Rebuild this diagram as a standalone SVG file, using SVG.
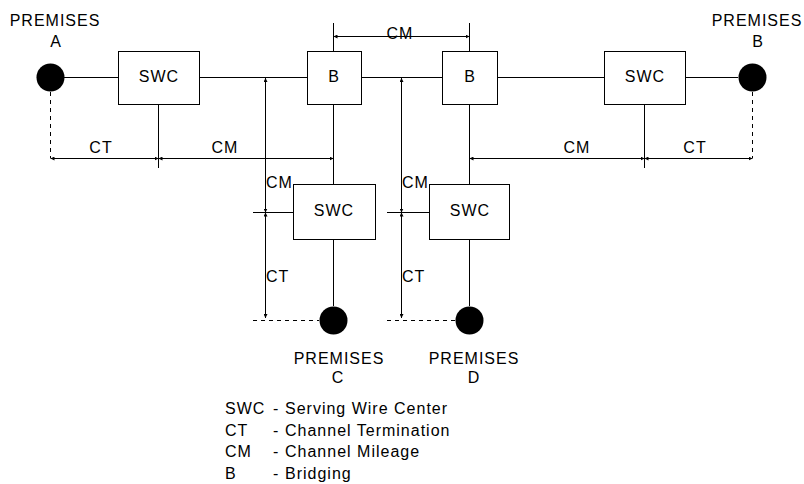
<svg xmlns="http://www.w3.org/2000/svg" width="804" height="484" viewBox="0 0 804 484">
<defs>
<marker id="ar" markerUnits="userSpaceOnUse" markerWidth="5" markerHeight="4" refX="4" refY="2" orient="auto-start-reverse">
<path d="M0,0 L4,2 L0,4 z" fill="#000"/>
</marker>
</defs>
<style>
.ln{stroke:#000;stroke-width:1;fill:none}
.ds{stroke:#000;stroke-width:1;fill:none;stroke-dasharray:4 4}
.dim{stroke:#000;stroke-width:1;fill:none;marker-start:url(#ar);marker-end:url(#ar)}
.box{fill:#fff;stroke:#000;stroke-width:1}
.dot{fill:#000}
text{font-family:"Liberation Sans",Arial,sans-serif;font-size:16px;fill:#000;letter-spacing:1px}
.c{text-anchor:middle}
</style>
<rect width="804" height="484" fill="#fff"/>
<g id="connectors">
<line class="ln" x1="64" y1="77.5" x2="118" y2="77.5"/>
<line class="ln" x1="199" y1="77.5" x2="307" y2="77.5"/>
<line class="ln" x1="361" y1="77.5" x2="442" y2="77.5"/>
<line class="ln" x1="497" y1="77.5" x2="604" y2="77.5"/>
<line class="ln" x1="685" y1="77.5" x2="738" y2="77.5"/>
<line class="ln" x1="333.5" y1="23" x2="333.5" y2="51"/>
<line class="ln" x1="469.5" y1="23" x2="469.5" y2="51"/>
<line class="ln" x1="333.5" y1="104" x2="333.5" y2="184"/>
<line class="ln" x1="469.5" y1="104" x2="469.5" y2="184"/>
<line class="ln" x1="333.5" y1="239" x2="333.5" y2="306"/>
<line class="ln" x1="469.5" y1="239" x2="469.5" y2="306"/>
<line class="ln" x1="158.5" y1="104" x2="158.5" y2="168"/>
<line class="ln" x1="644.5" y1="104" x2="644.5" y2="168"/>
<line class="ln" x1="253" y1="212.5" x2="293" y2="212.5"/>
<line class="ln" x1="387" y1="212.5" x2="429" y2="212.5"/>
<line class="ds" x1="50.5" y1="92" x2="50.5" y2="158"/>
<line class="ds" x1="752.5" y1="92" x2="752.5" y2="158"/>
<line class="ds" x1="253" y1="320.5" x2="319" y2="320.5"/>
<line class="ds" x1="387" y1="320.5" x2="455" y2="320.5"/>
<line class="dim" x1="333.5" y1="36.5" x2="469.5" y2="36.5"/>
<line class="dim" x1="50.5" y1="158.5" x2="158.5" y2="158.5"/>
<line class="dim" x1="158.5" y1="158.5" x2="333.5" y2="158.5"/>
<line class="dim" x1="469.5" y1="158.5" x2="644.5" y2="158.5"/>
<line class="dim" x1="644.5" y1="158.5" x2="752.5" y2="158.5"/>
<line class="dim" x1="265.5" y1="78" x2="265.5" y2="212.5"/>
<line class="dim" x1="265.5" y1="212.5" x2="265.5" y2="318"/>
<line class="dim" x1="401.5" y1="78" x2="401.5" y2="212.5"/>
<line class="dim" x1="401.5" y1="212.5" x2="401.5" y2="318"/>
<text class="c" x="400" y="39">CM</text>
<text class="c" x="101" y="153">CT</text>
<text class="c" x="225" y="153">CM</text>
<text class="c" x="577" y="153">CM</text>
<text class="c" x="695" y="153">CT</text>
<text x="266" y="188">CM</text>
<text x="266" y="282">CT</text>
<text x="402" y="188">CM</text>
<text x="402" y="282">CT</text>
</g>
<g id="premisesA">
<circle class="dot" cx="50.5" cy="77.5" r="14"/>
<text class="c" x="55" y="26">PREMISES</text>
<text class="c" x="56" y="47">A</text>
</g>
<g id="premisesB">
<circle class="dot" cx="752.5" cy="77.5" r="14"/>
<text class="c" x="757" y="26">PREMISES</text>
<text class="c" x="758" y="47">B</text>
</g>
<g id="premisesC">
<circle class="dot" cx="333.5" cy="320.5" r="14"/>
<text class="c" x="339" y="364">PREMISES</text>
<text class="c" x="338" y="383">C</text>
</g>
<g id="premisesD">
<circle class="dot" cx="469.5" cy="320.5" r="14"/>
<text class="c" x="474" y="364">PREMISES</text>
<text class="c" x="474" y="383">D</text>
</g>
<g id="swcA">
<rect class="box" x="118.5" y="51.5" width="81" height="53"/>
<text class="c" x="159" y="82">SWC</text>
</g>
<g id="bridge1">
<rect class="box" x="307.5" y="51.5" width="54" height="53"/>
<text class="c" x="334" y="82">B</text>
</g>
<g id="bridge2">
<rect class="box" x="442.5" y="51.5" width="55" height="53"/>
<text class="c" x="470" y="82">B</text>
</g>
<g id="swcB">
<rect class="box" x="604.5" y="51.5" width="81" height="53"/>
<text class="c" x="645" y="82">SWC</text>
</g>
<g id="swcC">
<rect class="box" x="293.5" y="184.5" width="82" height="55"/>
<text class="c" x="334" y="216">SWC</text>
</g>
<g id="swcD">
<rect class="box" x="429.5" y="184.5" width="80" height="55"/>
<text class="c" x="470" y="216">SWC</text>
</g>
<g id="legend">
<text x="225" y="414">SWC</text><text x="273" y="414">-</text><text x="285" y="414">Serving Wire Center</text>
<text x="225" y="436">CT</text><text x="273" y="436">-</text><text x="285" y="436">Channel Termination</text>
<text x="225" y="457">CM</text><text x="273" y="457">-</text><text x="285" y="457">Channel Mileage</text>
<text x="225" y="479">B</text><text x="273" y="479">-</text><text x="285" y="479">Bridging</text>
</g>
</svg>
